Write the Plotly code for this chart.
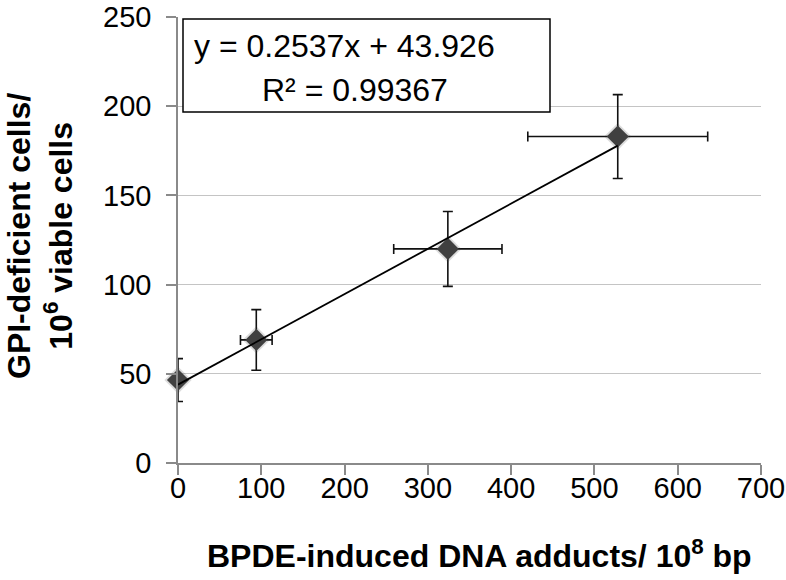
import plotly.graph_objects as go

# Data
adducts = [0, 94, 324, 528]            # BPDE-induced DNA adducts / 10^8 bp
adducts_err = [0, 19, 65, 108]
gpi_cells = [46.5, 69, 120, 183]       # GPI-deficient cells / 10^6 viable cells
gpi_err = [12, 17, 21, 23.5]

slope = 0.2537
intercept = 43.926
r_squared = 0.99367

x_ticks = [0, 100, 200, 300, 400, 500, 600, 700]
y_ticks = [0, 50, 100, 150, 200, 250]

trend_x = [min(adducts), max(adducts)]
trend_y = [slope * v + intercept for v in trend_x]

FONT = "Liberation Sans, Arial, sans-serif"

fig = go.Figure()

# error bars (clipped to plot area like the original)
fig.add_trace(go.Scatter(
    x=adducts, y=gpi_cells, mode="markers",
    marker=dict(size=1, color="rgba(0,0,0,0)"),
    error_x=dict(type="data", array=adducts_err, color="#111111", thickness=1.6, width=5),
    error_y=dict(type="data", array=gpi_err, color="#111111", thickness=1.6, width=5),
    cliponaxis=True, hoverinfo="skip", showlegend=False,
))
# soft shadow behind markers
fig.add_trace(go.Scatter(
    x=adducts, y=gpi_cells, mode="markers",
    marker=dict(symbol="diamond", size=21, color="rgba(60,60,60,0.18)", line=dict(width=0)),
    cliponaxis=False, hoverinfo="skip", showlegend=False,
))
# markers
fig.add_trace(go.Scatter(
    x=adducts, y=gpi_cells, mode="markers",
    marker=dict(symbol="diamond", size=17, color="#404040", line=dict(width=0)),
    cliponaxis=False, showlegend=False,
))
# linear trendline
fig.add_trace(go.Scatter(
    x=trend_x, y=trend_y, mode="lines",
    line=dict(color="#000000", width=1.8),
    cliponaxis=False, showlegend=False, hoverinfo="skip",
))

fig.update_layout(
    width=786, height=580,
    margin=dict(l=178, r=25, t=17, b=117),
    paper_bgcolor="white", plot_bgcolor="white",
    font=dict(family=FONT, color="#000000", size=29),
    xaxis=dict(
        range=[0, 700], tickvals=x_ticks, ticktext=[str(v) for v in x_ticks],
        showgrid=False, zeroline=False, automargin=False,
        showline=True, linecolor="#8a8a8a", linewidth=1.5,
        ticks="outside", ticklen=10, tickcolor="#8a8a8a", tickwidth=1.5,
        tickfont=dict(size=29, family=FONT, color="#000"),
        ticklabelstandoff=-12,
    ),
    yaxis=dict(
        range=[0, 250], tickvals=y_ticks, ticktext=[str(v) for v in y_ticks],
        showgrid=True, gridcolor="#c4c4c4", gridwidth=1.3, zeroline=False, automargin=False,
        showline=True, linecolor="#8a8a8a", linewidth=1.5,
        ticks="outside", ticklen=10, tickcolor="#8a8a8a", tickwidth=1.5,
        tickfont=dict(size=29, family=FONT, color="#000"),
        ticklabelstandoff=9,
    ),
)

# equation box
fig.add_shape(type="rect", xref="paper", yref="paper",
              x0=(183 - 178) / 583, x1=(550 - 178) / 583,
              y0=(463 - 112) / 446, y1=(463 - 19) / 446,
              line=dict(color="#000000", width=1.5), fillcolor="white", layer="above")
fig.add_annotation(xref="paper", yref="paper", x=(192 - 178) / 583, y=(463 - 46) / 446,
                   xanchor="left", yanchor="middle", showarrow=False,
                   text=f"y = {slope}x + {intercept}",
                   font=dict(size=32, family=FONT, color="#000"))
fig.add_annotation(xref="paper", yref="paper", x=(260 - 178) / 583, y=(463 - 90) / 446,
                   xanchor="left", yanchor="middle", showarrow=False,
                   text=f"R² = {r_squared}",
                   font=dict(size=32, family=FONT, color="#000"))

# axis titles
fig.add_annotation(xref="paper", yref="paper", x=(479 - 178) / 583, y=(463 - 554) / 446,
                   xanchor="center", yanchor="middle", showarrow=False,
                   text="<b>BPDE-induced DNA adducts/ 10<sup>8</sup> bp</b>",
                   font=dict(size=32, family=FONT, color="#000"))
fig.add_annotation(xref="paper", yref="paper", x=(40 - 178) / 583, y=(463 - 236) / 446,
                   xanchor="center", yanchor="middle", showarrow=False, textangle=-90,
                   text="<b>GPI-deficient cells/<br>10<sup>6</sup> viable cells</b>",
                   font=dict(size=32, family=FONT, color="#000"))

fig.write_html("out.html",
               config={"displayModeBar": False},
               post_script="document.body.style.margin='0';document.body.style.padding='0';")
